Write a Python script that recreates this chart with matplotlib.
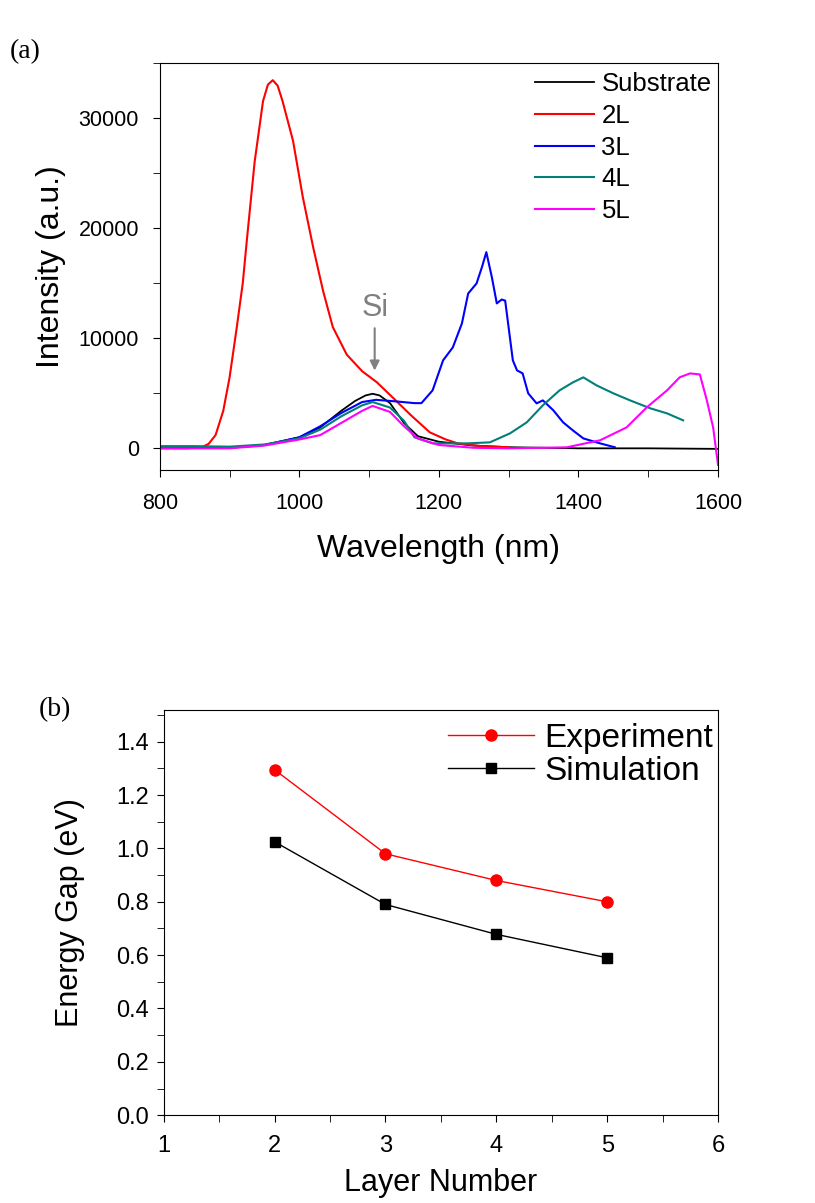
import matplotlib
matplotlib.use('Agg')
import matplotlib.pyplot as plt
from matplotlib.ticker import MultipleLocator

plt.rcParams['font.family'] = ['Liberation Sans', 'DejaVu Sans']

# (a) PL spectra
sub_wl = [800, 850, 900, 950, 1000, 1030, 1060, 1080, 1095, 1105, 1115, 1130, 1150, 1170, 1200, 1250, 1300, 1400, 1500, 1600]
sub_i = [100, 50, 50, 300, 1000, 1900, 3400, 4300, 4800, 4950, 4800, 4100, 2300, 1100, 600, 250, 100, 0, 0, -50]

l2_wl = [800, 840, 860, 870, 880, 891, 900, 910, 919, 925, 936, 948, 955, 962, 969, 976, 991, 1005, 1020, 1034,
         1048, 1068, 1090, 1111, 1134, 1160, 1187, 1210, 1227, 1260, 1300]
l2_i = [0, 0, 100, 400, 1200, 3400, 6400, 10800, 15000, 19000, 26000, 31500, 33000, 33400, 32900, 31500, 27900,
        22800, 18200, 14300, 11000, 8500, 7000, 6000, 4600, 3000, 1450, 800, 450, 200, 100]

l3_wl = [800, 900, 950, 1000, 1030, 1060, 1090, 1110, 1140, 1165, 1175, 1191, 1206, 1220, 1233, 1242, 1254, 1262,
         1268, 1276, 1283, 1290, 1295, 1306, 1312, 1320, 1328, 1340, 1349, 1364, 1378, 1392, 1407, 1431, 1452]
l3_i = [100, 50, 300, 1000, 2000, 3200, 4200, 4400, 4250, 4100, 4100, 5260, 7980, 9160, 11330, 14050, 14960, 16500,
        17800, 15500, 13150, 13500, 13400, 7980, 7070, 6800, 4990, 4080, 4350, 3450, 2360, 1630, 900, 450, 100]

l4_wl = [800, 850, 900, 950, 1000, 1030, 1060, 1090, 1105, 1130, 1150, 1165, 1191, 1240, 1273, 1302, 1326, 1349,
         1373, 1392, 1407, 1426, 1450, 1474, 1503, 1527, 1550]
l4_i = [200, 200, 150, 350, 900, 1700, 2900, 3900, 4200, 3700, 2500, 1000, 450, 450, 540, 1360, 2360, 3900,
        5260, 5980, 6440, 5710, 4990, 4350, 3630, 3170, 2540]

l5_wl = [800, 900, 950, 1000, 1030, 1060, 1090, 1105, 1130, 1150, 1170, 1200, 1250, 1300, 1383, 1431, 1469, 1498,
         1527, 1545, 1560, 1574, 1584, 1593, 1600]
l5_i = [0, 0, 250, 800, 1200, 2300, 3400, 3850, 3300, 2000, 900, 300, 50, 0, 90, 730, 1900, 3720,
        5260, 6440, 6800, 6700, 4350, 1900, -1500]

# (b) energy gap vs layer number
layers = [2, 3, 4, 5]
gap_exp = [1.295, 0.98, 0.88, 0.80]
gap_sim = [1.025, 0.79, 0.678, 0.59]

fig = plt.figure(figsize=(8.15, 12.03), dpi=100)

ax1 = fig.add_axes([0.196, 0.609, 0.685, 0.339])
ax1.plot(sub_wl, sub_i, color='black', lw=1.3, label='Substrate')
ax1.plot(l2_wl, l2_i, color='#ff0000', lw=1.5, label='2L')
ax1.plot(l3_wl, l3_i, color='#0000ff', lw=1.5, label='3L')
ax1.plot(l4_wl, l4_i, color='#008078', lw=1.5, label='4L')
ax1.plot(l5_wl, l5_i, color='#ff00ff', lw=1.5, label='5L')
ax1.set_xlim(800, 1600)
ax1.set_ylim(-2000, 35000)
ax1.xaxis.set_major_locator(MultipleLocator(200))
ax1.xaxis.set_minor_locator(MultipleLocator(100))
ax1.yaxis.set_major_locator(MultipleLocator(10000))
ax1.yaxis.set_minor_locator(MultipleLocator(5000))
ax1.tick_params(which='both', direction='out', labelsize=15.5, length=5, top=False, right=False)
ax1.tick_params(axis='y', pad=10)
ax1.tick_params(axis='x', pad=11)
ax1.set_xlabel('Wavelength (nm)', fontsize=23, labelpad=15)
ax1.set_ylabel('Intensity (a.u.)', fontsize=23, labelpad=9)
ax1.annotate('Si', xy=(1108, 6800), xytext=(1108, 11400), color='#808080', fontsize=22,
             ha='center', va='bottom',
             arrowprops=dict(arrowstyle='-|>', color='#808080', lw=1.5, mutation_scale=14))
ax1.legend(loc='upper right', bbox_to_anchor=(1.0, 0.992), frameon=False, fontsize=18.5,
           handlelength=2.3, labelspacing=0.3, borderaxespad=0.05, borderpad=0.2, handletextpad=0.3)
fig.text(0.012, 0.952, '(a)', fontsize=20, family='Liberation Serif')

ax2 = fig.add_axes([0.201, 0.073, 0.680, 0.337])
ax2.plot(layers, gap_exp, color='#ff0000', lw=1, marker='o', ms=8, label='Experiment')
ax2.plot(layers, gap_sim, color='black', lw=1, marker='s', ms=7, label='Simulation')
ax2.set_xlim(1, 6)
ax2.set_ylim(0, 1.52)
ax2.xaxis.set_major_locator(MultipleLocator(1))
ax2.xaxis.set_minor_locator(MultipleLocator(0.5))
ax2.yaxis.set_major_locator(MultipleLocator(0.2))
ax2.yaxis.set_minor_locator(MultipleLocator(0.1))
ax2.yaxis.set_major_formatter(plt.FormatStrFormatter('%.1f'))
ax2.tick_params(which='both', direction='out', labelsize=17, length=5, top=False, right=False)
ax2.tick_params(axis='y', pad=6)
ax2.tick_params(axis='x', pad=9)
ax2.set_xlabel('Layer Number', fontsize=22, labelpad=8)
ax2.set_ylabel('Energy Gap (eV)', fontsize=22, labelpad=22)
ax2.legend(loc='upper right', bbox_to_anchor=(1.0, 0.98), frameon=False, fontsize=24, numpoints=1,
           handlelength=2.6, labelspacing=0.05, borderaxespad=0.0, borderpad=0.15, handletextpad=0.3)
fig.text(0.047, 0.405, '(b)', fontsize=20, family='Liberation Serif')

fig.savefig('out.png', dpi=100)
